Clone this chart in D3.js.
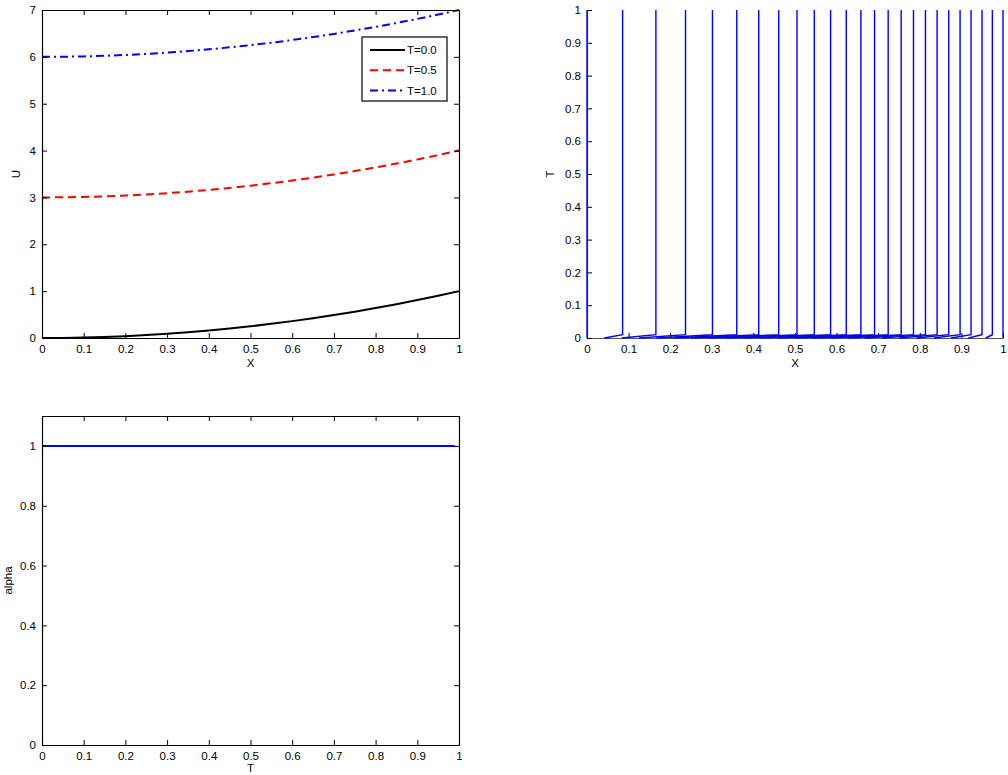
<!DOCTYPE html>
<html>
<head>
<meta charset="utf-8">
<script src="https://cdn.jsdelivr.net/npm/d3@7"></script>
<style>
  html, body { margin: 0; padding: 0; background: #fff; }
  svg text { font-family: "Liberation Sans", Arial, Helvetica, sans-serif; font-size: 11.5px; fill: #000; }
</style>
</head>
<body>
<svg id="fig" width="1008" height="775"></svg>
<script>
// ---- Panel 1: U(X) profiles at three times ----
const xGrid = [0, 0.05, 0.1, 0.15, 0.2, 0.25, 0.3, 0.35, 0.4, 0.45, 0.5, 0.55, 0.6, 0.65, 0.7, 0.75, 0.8, 0.85, 0.9, 0.95, 1];
const uT00 = [0, 0.0025, 0.01, 0.0225, 0.04, 0.0625, 0.09, 0.1225, 0.16, 0.2025, 0.25, 0.3025, 0.36, 0.4225, 0.49, 0.5625, 0.64, 0.7225, 0.81, 0.9025, 1];
const uT05 = [3, 3.0025, 3.01, 3.0225, 3.04, 3.0625, 3.09, 3.1225, 3.16, 3.2025, 3.25, 3.3025, 3.36, 3.4225, 3.49, 3.5625, 3.64, 3.7225, 3.81, 3.9025, 4];
const uT10 = [6, 6.0025, 6.01, 6.0225, 6.04, 6.0625, 6.09, 6.1225, 6.16, 6.2025, 6.25, 6.3025, 6.36, 6.4225, 6.49, 6.5625, 6.64, 6.7225, 6.81, 6.9025, 7];
const seriesNames = ["T=0.0", "T=0.5", "T=1.0"];
const xTicks = [0, 0.1, 0.2, 0.3, 0.4, 0.5, 0.6, 0.7, 0.8, 0.9, 1];
const uTicks = [0, 1, 2, 3, 4, 5, 6, 7];

// ---- Panel 2: characteristic curves in the (X,T) plane ----
const charStartX = [0, 0.0417, 0.0833, 0.125, 0.1667, 0.2083, 0.25, 0.2917, 0.3333, 0.375, 0.4167, 0.4583, 0.5, 0.5417, 0.5833, 0.625, 0.6667, 0.7083, 0.75, 0.7917, 0.8333, 0.875, 0.9167, 0.9583, 1];
const charBendX  = [0, 0.0856, 0.1656, 0.2368, 0.3016, 0.36, 0.4128, 0.4608, 0.5048, 0.5464, 0.5856, 0.6232, 0.6584, 0.6912, 0.724, 0.7552, 0.7848, 0.8136, 0.8416, 0.8696, 0.8968, 0.9232, 0.9496, 0.9744, 1];
const charTimes  = [0, 0.01, 1];
const tTicks = [0, 0.1, 0.2, 0.3, 0.4, 0.5, 0.6, 0.7, 0.8, 0.9, 1];

// ---- Panel 3: alpha(T) ----
const tGrid = [0, 0.11, 0.22, 0.33, 0.44, 0.55, 0.66, 0.77, 0.88, 0.99];
const alphaVals = [1, 1, 1, 1, 1, 1, 1, 1, 1, 1];
const alphaTicks = [0, 0.2, 0.4, 0.6, 0.8, 1];

const svg = d3.select("#fig");
const fmt = d => (d === 0 || d === 1) ? String(d) : String(+d.toFixed(1));

// MATLAB-style axes: inward ticks, optional box
function drawAxes(g, x, y, xt, yt, w, h, box) {
  const tl = 5;
  const bx = g.append("g").attr("transform", `translate(0,${h})`)
    .call(d3.axisBottom(x).tickValues(xt).tickFormat(fmt).tickSizeInner(-tl).tickSizeOuter(0).tickPadding(7));
  const lx = g.append("g")
    .call(d3.axisLeft(y).tickValues(yt).tickFormat(fmt).tickSizeInner(-tl).tickSizeOuter(0).tickPadding(6));
  [bx, lx].forEach(a => {
    a.select(".domain").attr("stroke", "#000").attr("stroke-width", 1.2);
    a.selectAll(".tick line").attr("stroke", "#000");
    a.selectAll("text").style("font-size", "11.5px").attr("fill", "#000");
  });
  if (box) {
    const tx = g.append("g").call(d3.axisTop(x).tickValues(xt).tickFormat("").tickSizeInner(-tl).tickSizeOuter(0));
    const rx = g.append("g").attr("transform", `translate(${w},0)`)
      .call(d3.axisRight(y).tickValues(yt).tickFormat("").tickSizeInner(-tl).tickSizeOuter(0));
    [tx, rx].forEach(a => {
      a.select(".domain").attr("stroke", "#000").attr("stroke-width", 1.2);
      a.selectAll(".tick line").attr("stroke", "#000");
    });
  }
}

// ---------- Panel 1 ----------
{
  const L = 42, T = 10, W = 417, H = 328;
  const g = svg.append("g").attr("transform", `translate(${L},${T})`);
  const x = d3.scaleLinear().domain([0, 1]).range([0, W]);
  const y = d3.scaleLinear().domain([0, 7]).range([H, 0]);
  const line = d3.line().x((d, i) => x(xGrid[i])).y(d => y(d));
  const styles = [
    { data: uT00, color: "#000000", dash: null },
    { data: uT05, color: "#ff0000", dash: "8,5" },
    { data: uT10, color: "#0000ff", dash: "8,4,2,4" }
  ];
  styles.forEach(s => {
    g.append("path").datum(s.data).attr("d", line)
      .attr("fill", "none").attr("stroke", s.color).attr("stroke-width", 2)
      .attr("stroke-dasharray", s.dash);
  });
  drawAxes(g, x, y, xTicks, uTicks, W, H, true);
  g.append("text").attr("x", W / 2).attr("y", H + 29).attr("text-anchor", "middle").text("X");
  g.append("text").attr("transform", `translate(-22,${H / 2}) rotate(-90)`).attr("text-anchor", "middle").text("U");

  // legend
  const lg = g.append("g").attr("transform", `translate(${362 - L},${37 - T})`);
  lg.append("rect").attr("width", 85).attr("height", 64).attr("fill", "#fff").attr("stroke", "#000").attr("stroke-width", 1.2);
  styles.forEach((s, i) => {
    const yy = 13 + i * 20.3;
    lg.append("line").attr("x1", 8).attr("x2", 43).attr("y1", yy).attr("y2", yy)
      .attr("stroke", s.color).attr("stroke-width", 2).attr("stroke-dasharray", s.dash);
    lg.append("text").attr("x", 45).attr("y", yy + 4).text(seriesNames[i]);
  });
}

// ---------- Panel 2 ----------
{
  const L = 587, T = 10, W = 416, H = 328;
  const g = svg.append("g").attr("transform", `translate(${L},${T})`);
  const x = d3.scaleLinear().domain([0, 1]).range([0, W]);
  const y = d3.scaleLinear().domain([0, 1]).range([H, 0]);
  drawAxes(g, x, y, xTicks, tTicks, W, H, false);
  g.selectAll(".domain").attr("stroke", "#555");
  const line = d3.line().x(d => x(d[0])).y(d => y(d[1]));
  const curves = g.append("g").attr("class", "characteristics");
  charStartX.forEach((x0, i) => {
    const pts = [[x0, charTimes[0]], [charBendX[i], charTimes[1]], [charBendX[i], charTimes[2]]];
    curves.append("path").datum(pts).attr("d", line)
      .attr("fill", "none").attr("stroke", "rgb(0,0,255)").attr("stroke-width", 1.4);
  });
  g.append("text").attr("x", W / 2).attr("y", H + 29).attr("text-anchor", "middle").text("X");
  g.append("text").attr("transform", `translate(-33,${H / 2}) rotate(-90)`).attr("text-anchor", "middle").text("T");
}

// ---------- Panel 3 ----------
{
  const L = 42, T = 416, W = 417, H = 329;
  const g = svg.append("g").attr("transform", `translate(${L},${T})`);
  const x = d3.scaleLinear().domain([0, 1]).range([0, W]);
  const y = d3.scaleLinear().domain([0, 1.1]).range([H, 0]);
  const line = d3.line().x((d, i) => x(tGrid[i])).y(d => y(d));
  g.append("path").datum(alphaVals).attr("d", line)
    .attr("fill", "none").attr("stroke", "#0000ff").attr("stroke-width", 2);
  drawAxes(g, x, y, xTicks, alphaTicks, W, H, true);
  g.append("text").attr("x", W / 2).attr("y", H + 27).attr("text-anchor", "middle").text("T");
  g.append("text").attr("transform", `translate(-30,${H / 2}) rotate(-90)`).attr("text-anchor", "middle").text("alpha");
}
</script>
</body>
</html>
